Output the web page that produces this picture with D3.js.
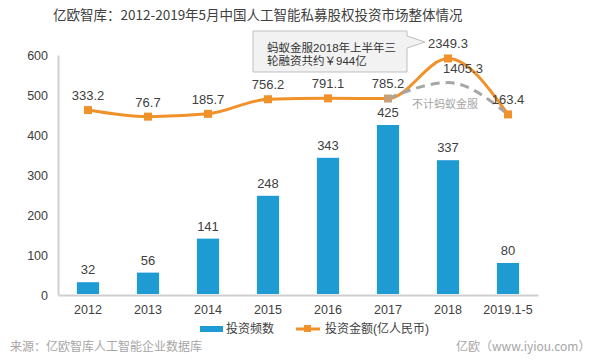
<!DOCTYPE html>
<html>
<head>
<meta charset="utf-8">
<script src="https://cdn.jsdelivr.net/npm/d3@7"></script>
<style>
  body { margin: 0; background: #fff; }
  text { font-family: "Liberation Sans", Arial, "Noto Sans CJK SC", sans-serif; }
</style>
</head>
<body>
<div id="chart"></div>
<script>
// data
var years = ["2012", "2013", "2014", "2015", "2016", "2017", "2018", "2019.1-5"];
var counts = [32, 56, 141, 248, 343, 425, 337, 80];
var amounts = [333.2, 76.7, 185.7, 756.2, 791.1, 785.2, 2349.3, 163.4];
// amounts without Ant Financial, 2017 to 2019
var altYears = ["2017", "2018", "2019.1-5"];
var altAmounts = [785.2, 1405.3, 163.4];
var yTicks = [0, 100, 200, 300, 400, 500, 600];

var width = 600, height = 362;
var margin = {top: 55, right: 62, bottom: 67, left: 58};

var svg = d3.select("#chart").append("svg")
    .attr("width", width)
    .attr("height", height);

// title
svg.append("text")
  .attr("x", 53)
  .attr("y", 20)
  .style("font-size", "13.5px")
  .style("fill", "#404040")
  .style("font-family", "'Noto Sans CJK SC', sans-serif")
  .text("亿欧智库：2012-2019年5月中国人工智能私募股权投资市场整体情况");

var x = d3.scaleBand()
    .domain(years)
    .range([margin.left, width - margin.right])
    .paddingInner(0.63)
    .paddingOuter(0.315);

var y = d3.scaleLinear()
    .domain([0, 600])
    .range([height - margin.bottom, margin.top]);

// hidden secondary axis for the amounts
var y2 = d3.scaleLinear()
    .domain([-6890, 2484])
    .range([height - margin.bottom, margin.top]);

// y axis
var yAxis = svg.append("g")
    .attr("transform", "translate(" + margin.left + ",0)")
    .call(d3.axisLeft(y).tickValues(yTicks).tickSize(0).tickPadding(10));
yAxis.select(".domain").attr("stroke", "#d0d0d0").attr("stroke-width", 2);
yAxis.selectAll("text").style("font-size", "12.5px").style("fill", "#404040");

// x axis
var xAxis = svg.append("g")
    .attr("transform", "translate(0," + y(0) + ")")
    .call(d3.axisBottom(x).tickSize(0).tickPadding(10));
xAxis.select(".domain").attr("stroke", "#d0d0d0").attr("stroke-width", 2);
xAxis.selectAll("text").style("font-size", "12.5px").style("fill", "#404040");

// bars
svg.selectAll(".bar")
  .data(counts)
  .enter().append("rect")
    .attr("class", "bar")
    .attr("x", function(d, i) { return x(years[i]); })
    .attr("y", function(d) { return y(d); })
    .attr("width", x.bandwidth())
    .attr("height", function(d) { return y(0) - y(d) - 1; })
    .style("fill", "#1f9bd4");

svg.selectAll(".barLabel")
  .data(counts)
  .enter().append("text")
    .attr("x", function(d, i) { return x(years[i]) + x.bandwidth() / 2; })
    .attr("y", function(d) { return y(d) - 8; })
    .style("text-anchor", "middle")
    .style("font-size", "13px")
    .style("fill", "#404040")
    .text(function(d) { return d; });

var cx = function(yr) { return x(yr) + x.bandwidth() / 2; };

// dashed grey line
var altLine = d3.line()
    .x(function(d, i) { return cx(altYears[i]); })
    .y(function(d) { return y2(d); })
    .curve(d3.curveMonotoneX);

// orange line
var line = d3.line()
    .x(function(d, i) { return cx(years[i]); })
    .y(function(d) { return y2(d); })
    .curve(d3.curveMonotoneX);

svg.append("path")
  .attr("d", line(amounts))
  .style("fill", "none")
  .style("stroke", "#f0912a")
  .style("stroke-width", 3);

svg.append("path")
  .attr("d", altLine(altAmounts))
  .style("fill", "none")
  .style("stroke", "#a6a6a6")
  .style("stroke-width", 3)
  .style("stroke-dasharray", "9,6");

svg.selectAll(".marker")
  .data(amounts)
  .enter().append("rect")
    .attr("x", function(d, i) { return cx(years[i]) - 4; })
    .attr("y", function(d) { return y2(d) - 4; })
    .attr("width", 8)
    .attr("height", 8)
    .style("fill", function(d, i) { return years[i] == "2017" ? "#c8a07a" : "#f0912a"; });

// amount labels
svg.selectAll(".amtLabel")
  .data(amounts)
  .enter().append("text")
    .attr("x", function(d, i) { return cx(years[i]); })
    .attr("y", function(d) { return y2(d) - 10; })
    .style("text-anchor", "middle")
    .style("font-size", "13px")
    .style("fill", "#404040")
    .text(function(d) { return d; });

svg.append("text")
  .attr("x", cx("2018") + 15)
  .attr("y", y2(altAmounts[1]) - 10)
  .style("text-anchor", "middle")
  .style("font-size", "13px")
  .style("fill", "#404040")
  .text(altAmounts[1]);

svg.append("text")
  .attr("x", 412)
  .attr("y", 108)
  .style("font-size", "11px")
  .style("fill", "#a6a6a6")
  .style("font-family", "'Noto Sans CJK SC', sans-serif")
  .text("不计蚂蚁金服");

// callout box
var callout = svg.append("g")
  .style("font-family", "'Noto Sans CJK SC', sans-serif");
callout.append("path")
  .attr("d", "M253,31 H407 V36 L425,42 L407,48 V72 H253 Z")
  .style("fill", "#f2f2f2")
  .style("stroke", "#bfbfbf")
  .style("stroke-width", 1);
callout.append("text")
  .attr("x", 267)
  .attr("y", 52)
  .style("font-size", "11.5px")
  .style("fill", "#333")
  .text("蚂蚁金服2018年上半年三");
callout.append("text")
  .attr("x", 267)
  .attr("y", 65)
  .style("font-size", "11.5px")
  .style("fill", "#333")
  .text("轮融资共约￥944亿");

// legend
var legend = svg.append("g")
  .style("font-family", "'Noto Sans CJK SC', sans-serif");
legend.append("rect")
  .attr("x", 200).attr("y", 326)
  .attr("width", 23).attr("height", 6)
  .style("fill", "#1f9bd4");
legend.append("text")
  .attr("x", 226).attr("y", 333)
  .style("font-size", "12px").style("fill", "#404040")
  .text("投资频数");
legend.append("line")
  .attr("x1", 296).attr("x2", 320)
  .attr("y1", 329).attr("y2", 329)
  .style("stroke", "#f0912a").style("stroke-width", 3);
legend.append("rect")
  .attr("x", 304).attr("y", 325)
  .attr("width", 7).attr("height", 7)
  .style("fill", "#f0912a");
legend.append("text")
  .attr("x", 325).attr("y", 333)
  .style("font-size", "12px").style("fill", "#404040")
  .text("投资金额(亿人民币)");

// footer
svg.append("text")
  .attr("x", 10).attr("y", 351)
  .style("font-size", "12px").style("fill", "#a6a6a6")
  .style("font-family", "'Noto Sans CJK SC', sans-serif")
  .text("来源：亿欧智库人工智能企业数据库");
svg.append("text")
  .attr("x", 456).attr("y", 351)
  .style("font-size", "12px").style("fill", "#a6a6a6")
  .style("font-family", "'Noto Sans CJK SC', sans-serif")
  .text("亿欧（www.iyiou.com）");
</script>
</body>
</html>
